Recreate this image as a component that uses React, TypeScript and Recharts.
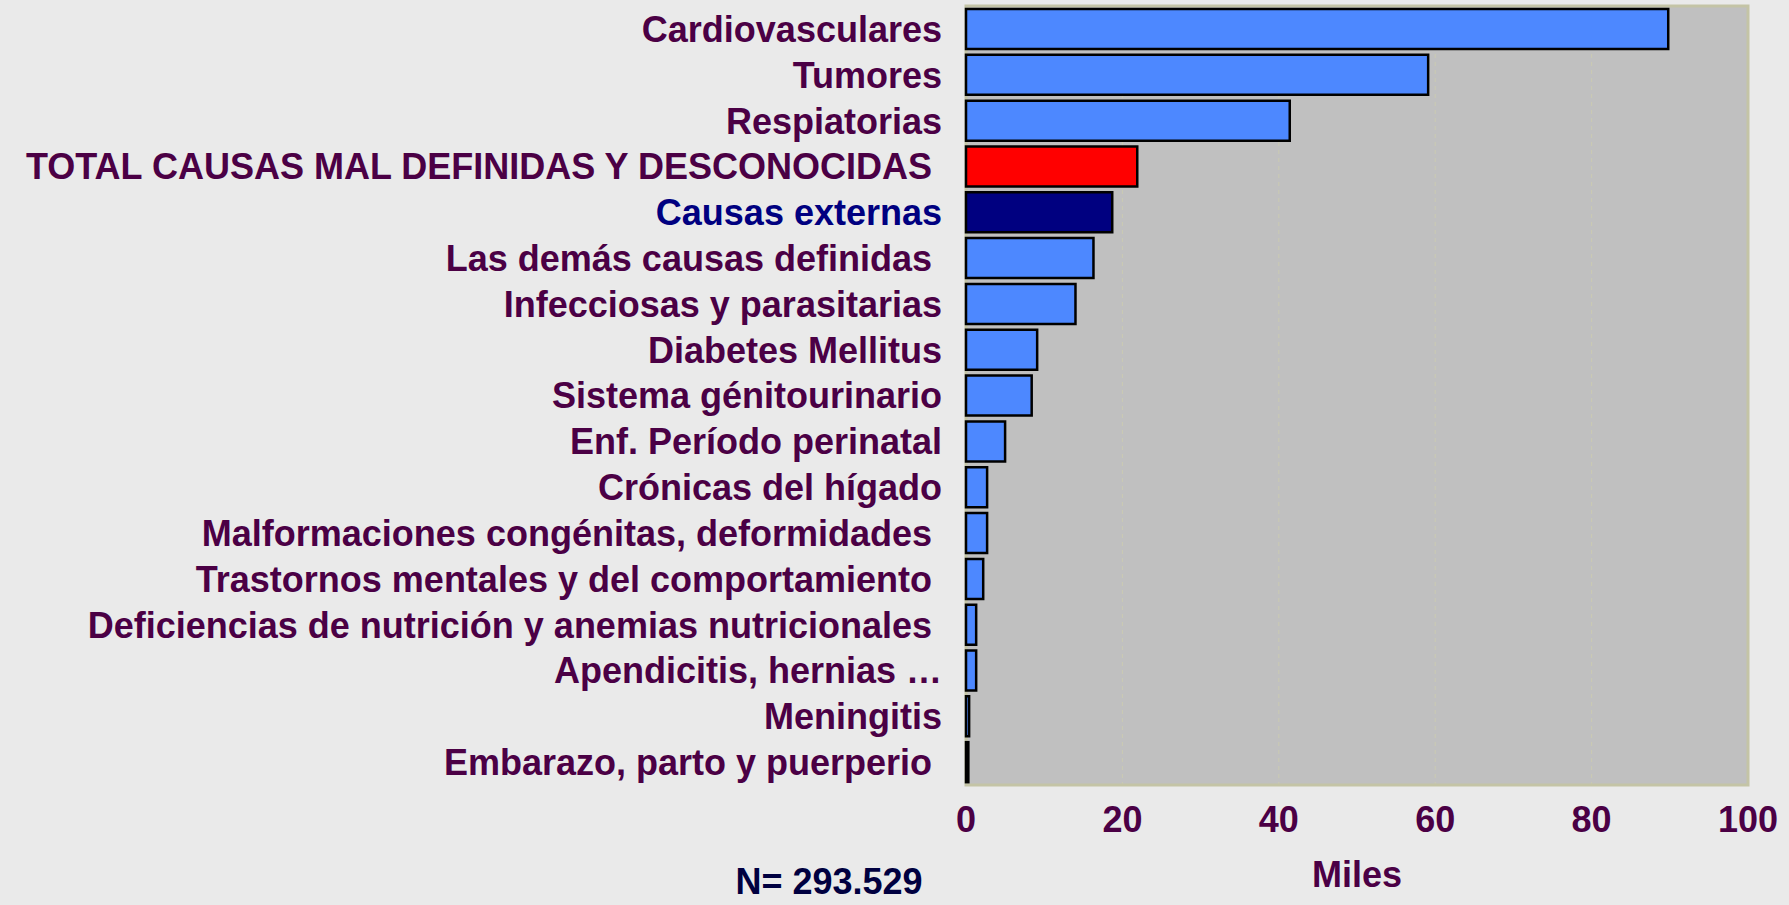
import React from 'react';
import { BarChart, Bar, XAxis, YAxis, CartesianGrid, Cell, ReferenceArea } from 'recharts';

const categories = [
  'Cardiovasculares',
  'Tumores',
  'Respiatorias',
  'TOTAL CAUSAS MAL DEFINIDAS Y DESCONOCIDAS ',
  'Causas externas',
  'Las demás causas definidas ',
  'Infecciosas y parasitarias',
  'Diabetes Mellitus',
  'Sistema génitourinario',
  'Enf. Período perinatal',
  'Crónicas del hígado',
  'Malformaciones congénitas, deformidades ',
  'Trastornos mentales y del comportamiento ',
  'Deficiencias de nutrición y anemias nutricionales ',
  'Apendicitis, hernias …',
  'Meningitis',
  'Embarazo, parto y puerperio ',
];

const values = [89.8, 59.1, 41.4, 21.9, 18.7, 16.3, 14.0, 9.1, 8.4, 5.0, 2.7, 2.7, 2.2, 1.3, 1.3, 0.4, 0.3];

const xTicks = [0, 20, 40, 60, 80, 100];
const xLabel = 'Miles';
const totalNote = 'N= 293.529';

const highlightRed = 'TOTAL CAUSAS MAL DEFINIDAS Y DESCONOCIDAS ';
const highlightNavy = 'Causas externas';

const data = categories.map((name, i) => ({ name, value: values[i] }));

const FONT = '"Liberation Sans", Arial, sans-serif';
const PURPLE = '#4B0045';
const NAVY = '#000080';

const barFill = (name: string) => (name === highlightRed ? '#FF0000' : name === highlightNavy ? NAVY : '#4D88FF');

const YTick = (props: any) => {
  const { x, y, payload } = props;
  return (
    <text
      x={x}
      y={y}
      dy="0.36em"
      textAnchor="end"
      xmlSpace="preserve"
      style={{ whiteSpace: 'pre' }}
      fill={payload.value === highlightNavy ? NAVY : PURPLE}
      fontSize={36}
      fontWeight="bold"
      fontFamily={FONT}
    >
      {payload.value}
    </text>
  );
};

export default function App() {
  return (
    <div style={{ position: 'absolute', left: 0, top: 0, width: 1789, height: 905, background: '#EAEAEA', overflow: 'hidden' }}>
      <BarChart
        width={1789}
        height={905}
        data={data}
        layout="vertical"
        margin={{ top: 6, right: 41, bottom: 0, left: 0 }}
        barSize={40}
      >
        <CartesianGrid horizontal={false} vertical={true} fill="#C0C0C0" stroke="#CACAB2" strokeDasharray="4 4" />
        <XAxis
          type="number"
          domain={[0, 100]}
          ticks={xTicks}
          axisLine={false}
          tickLine={false}
          tickSize={0}
          tickMargin={21}
          height={120}
          tick={{ fill: PURPLE, fontSize: 36, fontWeight: 'bold', fontFamily: FONT }}
          label={{ value: xLabel, position: 'insideBottom', offset: 18, fill: PURPLE, fontSize: 36, fontWeight: 'bold', fontFamily: FONT }}
        />
        <YAxis
          type="category"
          dataKey="name"
          width={966}
          axisLine={false}
          tickLine={false}
          tickSize={0}
          tickMargin={24}
          interval={0}
          tick={<YTick />}
        />
        <ReferenceArea x1={0} x2={100} fill="none" stroke="#C4C4A6" strokeWidth={3} ifOverflow="visible" />
        <Bar dataKey="value" stroke="#000000" strokeWidth={2.5} isAnimationActive={false}>
          {data.map((d) => (
            <Cell key={d.name} fill={barFill(d.name)} />
          ))}
        </Bar>
      </BarChart>
      <svg width={1789} height={905} style={{ position: 'absolute', left: 0, top: 0, pointerEvents: 'none' }}>
        <text x={829} y={894} textAnchor="middle" fill="#000040" fontSize={36} fontWeight="bold" fontFamily={FONT}>
          {totalNote}
        </text>
      </svg>
    </div>
  );
}
